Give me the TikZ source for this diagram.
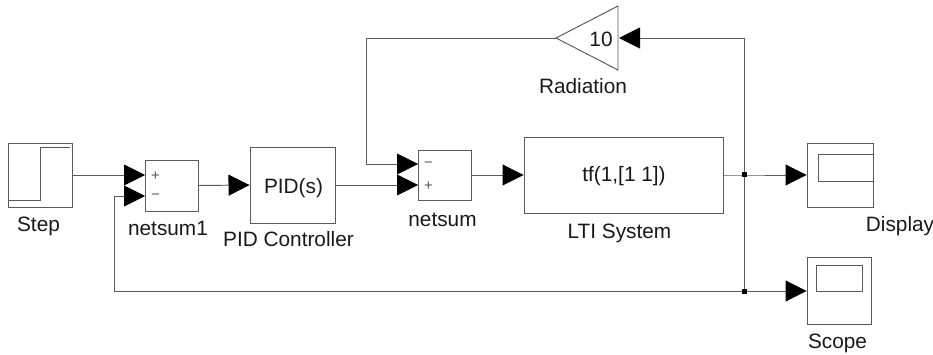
\documentclass[tikz,border=0pt]{standalone}
\usepackage{fontspec}
\setmainfont{Liberation Sans}
\usetikzlibrary{arrows.meta}
\definecolor{wire}{HTML}{5A5A5A}
\tikzset{
  block/.style={draw=wire,line width=0.95pt,fill=white,inner sep=0pt},
  wiring/.style={draw=wire,line width=0.95pt},
  flow/.style={wiring,-{Triangle[length=21pt,width=21pt,color=black]}},
  lbl/.style={anchor=base,inner sep=0pt,font=\fontsize{20.8}{24}\selectfont,text=black!90},
  sign/.style={inner sep=0pt,text=wire,font=\fontsize{15}{17}\selectfont},
  dot/.style={fill=black,inner sep=0pt,minimum size=5pt,rectangle}
}
\begin{document}
\begin{tikzpicture}[x=1pt,y=-1pt]
\useasboundingbox (0,0) rectangle (933,355);
% blocks
\node[block,minimum width=64pt,minimum height=64pt] (step) at (40,175) {};
\node[block,minimum width=53pt,minimum height=51pt] (sum1) at (171.5,185.5) {};
\node[block,minimum width=85pt,minimum height=76pt] (pid) at (292.5,185) {};
\node[lbl] (pidt) at (293.5,194) {PID(s)};
\node[block,minimum width=53pt,minimum height=50pt] (sum) at (444.5,175) {};
\node[block,minimum width=199pt,minimum height=76pt] (lti) at (623.5,175) {};
\node[lbl] (ltit) at (624,182) {tf(1,[1 1])};
\node[block,minimum width=66pt,minimum height=64pt] (display) at (840,175) {};
\node[block,minimum width=64pt,minimum height=67pt] (scope) at (839,291) {};
% icons
\draw[wiring] (8,200.5) -- (40,200.5) -- (40,147.5) -- (70,147.5);
\draw[wiring] (873,154) -- (818,154) -- (818,181) -- (873,181);
\draw[wiring] (816,265.5) rectangle (862.5,291);
% gain triangle
\coordinate (gainin) at (618,38);
\coordinate (gainout) at (556,38);
\draw[wiring,fill=white] (gainout) -- (618,6) -- (618,70) -- cycle;
\node[lbl] (gainval) at (601,47) {10};
% ports
\coordinate (s1a) at (145,175);
\coordinate (s1b) at (145,196);
\coordinate (sa) at (418,164);
\coordinate (sb) at (418,185);
\coordinate (c1) at (366,38);
\coordinate (c2) at (366,164);
\coordinate (c3) at (114,196);
\coordinate (c4) at (114,291);
\coordinate (j1) at (744.5,175);
\coordinate (j2) at (744.5,291);
\coordinate (top) at (744.5,38);
% signs
\node[sign] (s1p) at (155.5,176) {+};
\node[sign] (s1m) at (155.5,197) {−};
\node[sign] (sm) at (428.5,165) {−};
\node[sign] (sp) at (428.5,186) {+};
% connectors
\draw[flow] (step.east |- s1a) -- (s1a);
\draw[flow] (sum1.east) -- (pid.west);
\draw[flow] (pid.east) -- (sb);
\draw[flow] (sum.east) -- (lti.west);
\draw[flow] (lti.east) -- (j1) -- (display.west);
\draw[flow] (top) -- ([xshift=1pt]gainin);
\draw[wiring] (top) -- (j2);
\draw[flow] (gainout) -- (c1) -- (c2) -- (sa);
\draw[flow] (j2) -- (scope.west);
\draw[flow] (j2) -- (c4) -- (c3) -- (s1b);
\node[dot] (dot1) at (j1) {};
\node[dot] (dot2) at (j2) {};
% labels
\node[lbl] (stepl) at (38.5,231) {Step};
\node[lbl] (sum1l) at (168,236) {netsum1};
\node[lbl] (pidl) at (288.5,247) {PID Controller};
\node[lbl] (suml) at (442.5,226) {netsum};
\node[lbl] (ltil) at (619.5,238) {LTI System};
\node[lbl] (gainl) at (583,94) {Radiation};
\node[lbl] (displ) at (900,231) {Display};
\node[lbl] (scopl) at (837.5,348) {Scope};
\end{tikzpicture}
\end{document}
